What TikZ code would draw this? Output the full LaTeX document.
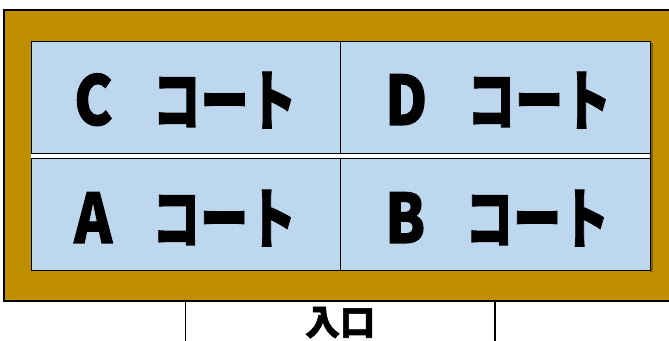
\documentclass[tikz,border=0pt]{standalone}
\usepackage{fontspec}
\newfontfamily\jp{Noto Sans CJK JP}[BoldFeatures={FakeBold=1.6}]
\definecolor{frame}{HTML}{BF8F00}
\definecolor{frameshadow}{HTML}{7F5F00}
\definecolor{court}{HTML}{BDD7EE}
\tikzset{
  courtlabel/.style={anchor=base west, inner sep=0pt, font=\fontsize{48}{48}\selectfont\jp\bfseries},
  entrylabel/.style={anchor=base, inner sep=0pt, font=\fontsize{35}{35}\selectfont\jp\bfseries},
}
\newcommand{\courttext}[1]{\scalebox{1.2}[1.42]{#1}\hspace{40pt}\scalebox{1}[1.38]{コート}}
\begin{document}
\begin{tikzpicture}[x=1pt,y=1pt]
\useasboundingbox (0,0) rectangle (669,340);
% frame
\fill[frame] (4,39) rectangle (672,330);
\draw[line width=2pt] (672,330) -- (4,330) -- (4,39) -- (672,39);
% shadow of court
\fill[frameshadow] (650,68) rectangle (652.5,297);
% court
\fill[court] (31,69) rectangle (650,298);
\draw[line width=1pt] (31,69) rectangle (650,298);
% white gap / double line
\fill[white] (31,181) rectangle (650,186.5);
\draw[line width=1pt] (31,186.5) -- (650,186.5);
\draw[line width=1pt] (31,181) -- (650,181);
% vertical divider
\draw[line width=1pt] (340.5,298) -- (340.5,186.5);
\draw[line width=1pt] (340.5,181) -- (340.5,69);
% labels
\node[courtlabel] (c) at (74,215) {\courttext{C}};
\node[courtlabel] (d) at (385,215) {\courttext{D}};
\node[courtlabel] (a) at (74,97) {\courttext{A}};
\node[courtlabel] (b) at (385,97) {\courttext{B}};
% entrance
\draw[line width=1.3pt] (185.7,38) -- (185.7,-2);
\draw[line width=1.3pt] (495,38) -- (495,-2);
\node[entrylabel] (entry) at (340,5) {入口};
\end{tikzpicture}
\end{document}
